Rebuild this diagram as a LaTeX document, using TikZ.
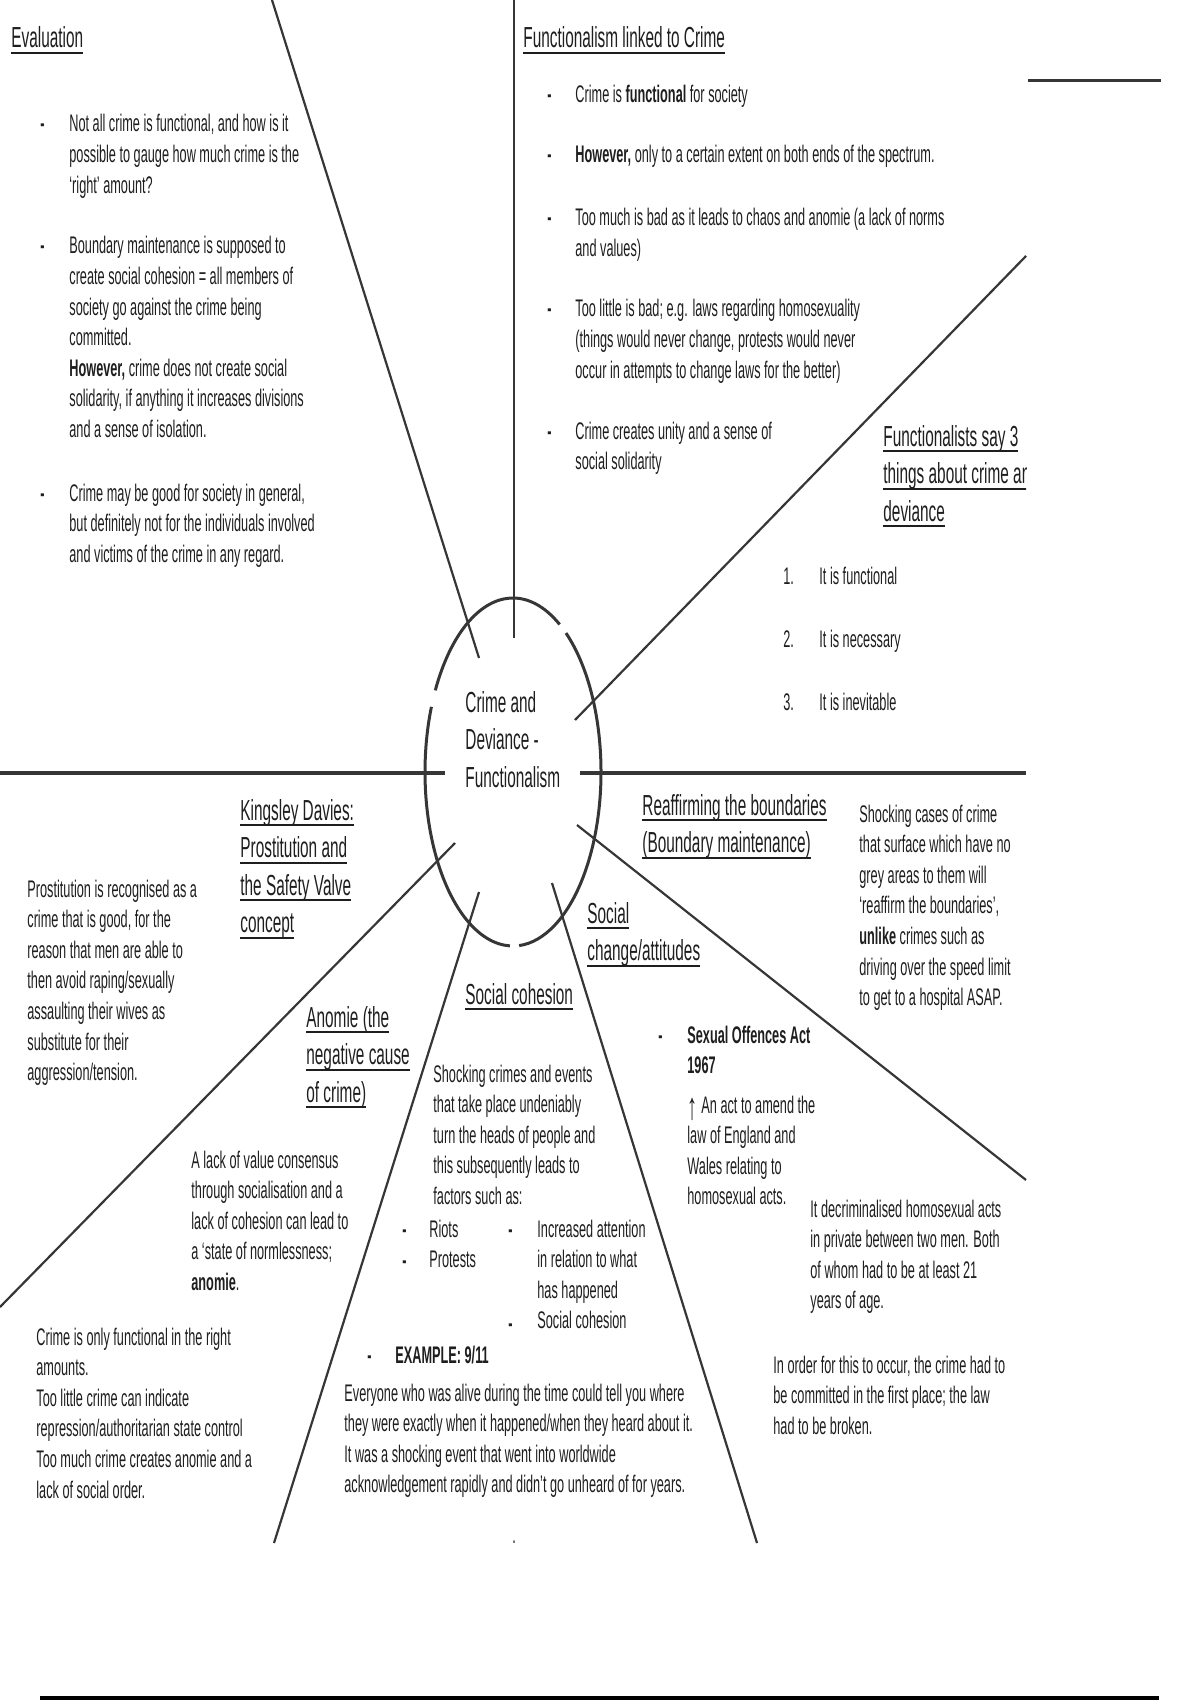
\documentclass[tikz,border=0pt]{standalone}
\usepackage{fontspec}
\setmainfont{Liberation Sans}[FakeStretch=0.53]
\usepackage{tikz}
\usetikzlibrary{positioning}
\definecolor{ink}{HTML}{1E1E1E}
\definecolor{linegrey}{HTML}{363636}
\newcommand{\hdul}[1]{\leavevmode\setbox0\hbox{#1}\rlap{\rule[-3.2pt]{\wd0}{1.2pt}}\box0}

\begin{document}
\begin{tikzpicture}[x=0.5pt, y=-0.5pt,
  body/.style={font=\fontsize{12}{15.3}\selectfont, text=ink, text width=300pt, align=left,
    execute at begin node={\spaceskip=0pt\xspaceskip=0pt}, anchor=base west, inner sep=0pt},
  head/.style={body, font=\fontsize{14.5}{18.75}\selectfont},
  spoke/.style={draw=linegrey, line width=1.1pt},
  bar/.style={draw=linegrey, line width=2pt}]
\useasboundingbox (0,0) rectangle (1200,1700);

% hub
\coordinate (hubc) at (513,772);
\draw[linegrey, line width=1.5pt] ([shift={(92:88 and 174)}]hubc) arc[start angle=92, end angle=202, x radius=88, y radius=174];
\draw[linegrey, line width=1.5pt] ([shift={(208:88 and 174)}]hubc) arc[start angle=208, end angle=302, x radius=88, y radius=174];
\draw[linegrey, line width=1.5pt] ([shift={(307:88 and 174)}]hubc) arc[start angle=307, end angle=446, x radius=88, y radius=174];
\node[head] (hub) at (465,712) {Crime and\\Deviance -\\Functionalism};

% spokes
\coordinate (nIn) at (514,638);   \coordinate (nOut) at (514,0);
\coordinate (nwIn) at (479,658);  \coordinate (nwOut) at (272,0);
\coordinate (neIn) at (575,720);  \coordinate (neOut) at (1026,256);
\coordinate (wIn) at (445,773);   \coordinate (wOut) at (0,773);
\coordinate (eIn) at (580,773);   \coordinate (eOut) at (1026,773);
\coordinate (swIn) at (455,843);  \coordinate (swOut) at (0,1307);
\coordinate (seIn) at (577,825);  \coordinate (seOut) at (1026,1180);
\coordinate (sswIn) at (479,892); \coordinate (sswOut) at (274,1543);
\coordinate (sseIn) at (552,883); \coordinate (sseOut) at (757,1543);
\draw[spoke] (nIn) -- (nOut);
\draw[spoke] (nwIn) -- (nwOut);
\draw[spoke] (neIn) -- (neOut);
\draw[bar] (wIn) -- (wOut);
\draw[bar] (eIn) -- (eOut);
\draw[spoke] (swIn) -- (swOut);
\draw[spoke] (seIn) -- (seOut);
\draw[spoke] (sswIn) -- (sswOut);
\draw[spoke] (sseIn) -- (sseOut);

% page rules
\coordinate (tlA) at (1028,81);  \coordinate (tlB) at (1161,81);
\coordinate (blA) at (40,1698);  \coordinate (blB) at (1159,1698);
\draw[linegrey, line width=1.5pt] (tlA) -- (tlB);
\draw[black, line width=2pt] (blA) -- (blB);

% evaluation
\node[head] (evalh) at (11,48) {\hdul{Evaluation}};
\node[body] (evalb1) at (40,132) {\textbf{-}};
\node[body] (eval1) at (69,132) {Not all crime is functional, and how is it\\possible to gauge how much crime is the\\‘right’ amount?};
\node[body] (evalb2) at (40,254) {\textbf{-}};
\node[body] (eval2) at (69,254) {Boundary maintenance is supposed to\\create social cohesion = all members of\\society go against the crime being\\committed.\\\textbf{However,} crime does not create social\\solidarity, if anything it increases divisions\\and a sense of isolation.};
\node[body] (evalb3) at (40,501) {\textbf{-}};
\node[body] (eval3) at (69,501) {Crime may be good for society in general,\\but definitely not for the individuals involved\\and victims of the crime in any regard.};

% functionalism linked to crime
\node[head] (funch) at (523,48) {\hdul{Functionalism linked to Crime}};
\node[body] (funcb1) at (547,103) {\textbf{-}};
\node[body] (func1) at (575,103) {Crime is \textbf{functional} for society};
\node[body] (funcb2) at (547,163) {\textbf{-}};
\node[body] (func2) at (575,163) {\textbf{However,} only to a certain extent on both ends of the spectrum.};
\node[body] (funcb3) at (547,226) {\textbf{-}};
\node[body] (func3) at (575,226) {Too much is bad as it leads to chaos and anomie (a lack of norms\\and values)};
\node[body] (funcb4) at (547,317) {\textbf{-}};
\node[body] (func4) at (575,317) {Too little is bad; e.g. laws regarding homosexuality\\(things would never change, protests would never\\occur in attempts to change laws for the better)};
\node[body] (funcb5) at (547,439) {\textbf{-}};
\node[body] (func5) at (575,439) {Crime creates unity and a sense of\\social solidarity};

% three things
\begin{scope}
\clip (0,0) rectangle (1026,1700);
\node[head] (threeh) at (883,446) {\hdul{Functionalists say 3}\\\hdul{things about crime and}\\\hdul{deviance}};
\end{scope}
\node[body] (num1) at (783,584) {1.};
\node[body] (three1) at (819,584) {It is functional};
\node[body] (num2) at (783,647) {2.};
\node[body] (three2) at (819,647) {It is necessary};
\node[body] (num3) at (783,710) {3.};
\node[body] (three3) at (819,710) {It is inevitable};

% kingsley davies
\node[head] (davh) at (240,820) {\hdul{Kingsley Davies:}\\\hdul{Prostitution and}\\\hdul{the Safety Valve}\\\hdul{concept}};
\node[body] (dav) at (27,897) {Prostitution is recognised as a\\crime that is good, for the\\reason that men are able to\\then avoid raping/sexually\\assaulting their wives as\\substitute for their\\aggression/tension.};

% anomie
\node[head] (anoh) at (306,1027) {\hdul{Anomie (the}\\\hdul{negative cause}\\\hdul{of crime)}};
\node[body] (ano) at (191,1168) {A lack of value consensus\\through socialisation and a\\lack of cohesion can lead to\\a ‘state of normlessness;\\\textbf{anomie}.};
\node[body] (amount) at (36,1345) {Crime is only functional in the right\\amounts.\\Too little crime can indicate\\repression/authoritarian state control\\Too much crime creates anomie and a\\lack of social order.};

% social cohesion
\node[head] (cohh) at (465,1004) {\hdul{Social cohesion}};
\node[body] (coh) at (433,1082) {Shocking crimes and events\\that take place undeniably\\turn the heads of people and\\this subsequently leads to\\factors such as:};
\node[body] (cohb1) at (402,1237) {\textbf{-}};
\node[body] (cohb2) at (402,1268) {\textbf{-}};
\node[body] (cohl) at (429,1237) {Riots\\Protests};
\node[body] (cohb3) at (508,1237) {\textbf{-}};
\node[body] (cohb4) at (508,1331) {\textbf{-}};
\node[body] (cohr) at (537,1237) {Increased attention\\in relation to what\\has happened\\Social cohesion};
\node[body] (exb) at (367,1363) {\textbf{-}};
\node[body] (exh) at (395,1363) {\textbf{EXAMPLE: 9/11}};
\node[body] (ex) at (344,1401) {Everyone who was alive during the time could tell you where\\they were exactly when it happened/when they heard about it.\\It was a shocking event that went into worldwide\\acknowledgement rapidly and didn’t go unheard of for years.};
\node[body] (dot) at (512,1543) {.};

% social change
\node[head] (chgh) at (587,923) {\hdul{Social}\\\hdul{change/attitudes}};
\node[body] (actb) at (658,1043) {\textbf{-}};
\node[body] (acth) at (687,1043) {\textbf{Sexual Offences Act}\\\textbf{1967}};
\node[body] (act) at (687,1113) {\raisebox{-3pt}{\fontsize{19}{15}\selectfont ↑}\,An act to amend the\\law of England and\\Wales relating to\\homosexual acts.};
\node[body] (decr) at (810,1217) {It decriminalised homosexual acts\\in private between two men. Both\\of whom had to be at least 21\\years of age.};
\node[body] (order) at (773,1373) {In order for this to occur, the crime had to\\be committed in the first place; the law\\had to be broken.};

% boundaries
\node[head] (bndh) at (642,815) {\hdul{Reaffirming the boundaries}\\\hdul{(Boundary maintenance)}};
\node[body] (bnd) at (859,822) {Shocking cases of crime\\that surface which have no\\grey areas to them will\\‘reaffirm the boundaries’,\\\textbf{unlike} crimes such as\\driving over the speed limit\\to get to a hospital ASAP.};
\end{tikzpicture}
\end{document}
